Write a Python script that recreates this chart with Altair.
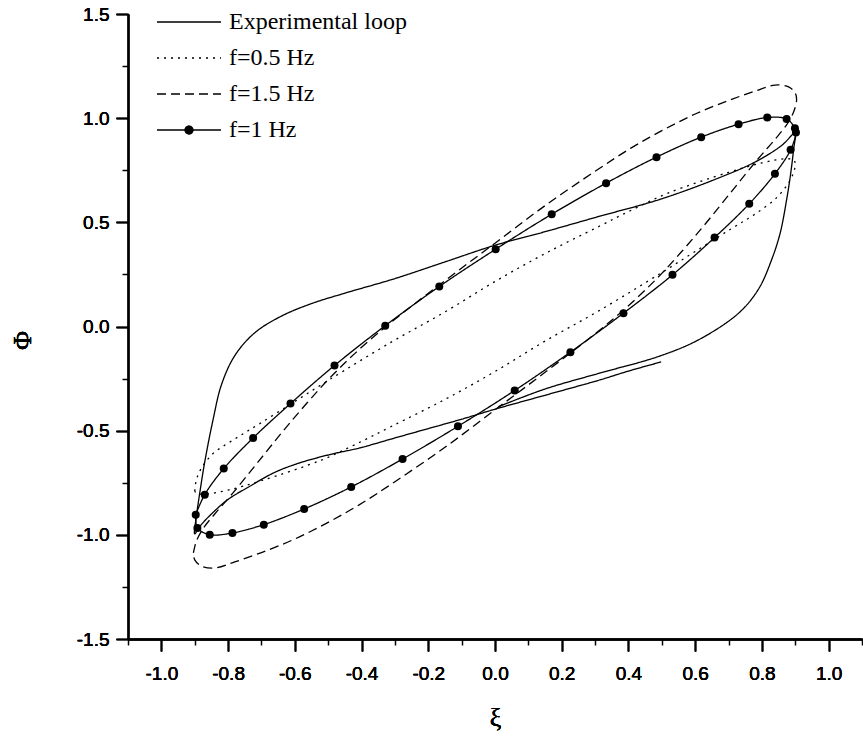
import altair as alt
import pandas as pd

series_names = ["Experimental loop", "f=0.5 Hz", "f=1.5 Hz", "f=1 Hz"]

# Experimental loop (traced from its free end)
exp_x = [0.498, 0.40, 0.311, 0.15, 0.0, -0.10, -0.20, -0.30, -0.406, -0.496, -0.586, -0.66, -0.735, -0.80, -0.85, -0.885, -0.90,
         -0.895, -0.885, -0.87, -0.845, -0.82, -0.78, -0.72, -0.64, -0.55, -0.45, -0.30, -0.15, 0.0, 0.15, 0.311, 0.49, 0.65, 0.78, 0.86, 0.899,
         0.895, 0.885, 0.874, 0.855, 0.829, 0.79, 0.73, 0.61, 0.49, 0.311, 0.15, 0.01]
exp_y = [-0.170, -0.214, -0.258, -0.33, -0.397, -0.445, -0.49, -0.535, -0.583, -0.615, -0.655, -0.70, -0.767, -0.83, -0.90, -0.96, -0.995,
         -0.911, -0.80, -0.65, -0.447, -0.28, -0.14, -0.03, 0.05, 0.11, 0.16, 0.23, 0.31, 0.39, 0.455, 0.528, 0.608, 0.70, 0.79, 0.87, 0.928,
         0.85, 0.72, 0.608, 0.45, 0.32, 0.18, 0.064, -0.064, -0.144, -0.225, -0.30, -0.385]

# f = 0.5 Hz
f05_x = [-0.90, -0.895, -0.88, -0.845, -0.78, -0.709, -0.60, -0.496, -0.311, -0.15, 0.0, 0.15, 0.311, 0.421, 0.52, 0.70, 0.80, 0.869, 0.895, 0.90,
         0.895, 0.88, 0.845, 0.78, 0.709, 0.60, 0.496, 0.311, 0.15, 0.0, -0.15, -0.311, -0.421, -0.52, -0.70, -0.80, -0.869, -0.895, -0.90]
f05_y = [-0.79, -0.735, -0.68, -0.61, -0.54, -0.47, -0.36, -0.255, -0.075, 0.07, 0.216, 0.35, 0.48, 0.568, 0.641, 0.74, 0.785, 0.805, 0.80, 0.78,
         0.74, 0.69, 0.62, 0.54, 0.47, 0.36, 0.255, 0.075, -0.07, -0.216, -0.35, -0.48, -0.568, -0.641, -0.74, -0.785, -0.805, -0.80, -0.79]

# f = 1.5 Hz
f15_x = [-0.904, -0.895, -0.875, -0.84, -0.786, -0.71, -0.616, -0.50, -0.40, -0.30, -0.15, 0.0, 0.15, 0.30, 0.406, 0.50, 0.60, 0.70, 0.78, 0.839, 0.88, 0.90, 0.904,
         0.895, 0.875, 0.84, 0.786, 0.71, 0.616, 0.50, 0.40, 0.30, 0.15, 0.0, -0.15, -0.30, -0.406, -0.50, -0.60, -0.70, -0.78, -0.839, -0.88, -0.90, -0.904]
f15_y = [-1.087, -1.03, -0.97, -0.90, -0.80, -0.65, -0.465, -0.255, -0.10, 0.035, 0.22, 0.40, 0.58, 0.745, 0.855, 0.94, 1.02, 1.085, 1.13, 1.159, 1.15, 1.12, 1.087,
         1.03, 0.97, 0.90, 0.80, 0.65, 0.465, 0.255, 0.10, -0.035, -0.22, -0.40, -0.58, -0.745, -0.855, -0.94, -1.02, -1.085, -1.13, -1.159, -1.15, -1.12, -1.087]

# f = 1 Hz (marked points)
f1_x = [-0.897, -0.870, -0.813, -0.725, -0.613, -0.481, -0.329, -0.167, 0.002, 0.170, 0.333, 0.484, 0.618, 0.730, 0.816, 0.874, 0.899, 0.902,
        0.886, 0.839, 0.762, 0.658, 0.532, 0.385, 0.226, 0.059, -0.111, -0.277, -0.431, -0.572, -0.693, -0.787, -0.855, -0.892]
f1_y = [-0.903, -0.807, -0.682, -0.535, -0.37, -0.187, 0.004, 0.192, 0.371, 0.539, 0.688, 0.813, 0.909, 0.971, 1.003, 0.996, 0.952, 0.931,
        0.848, 0.733, 0.589, 0.427, 0.248, 0.064, -0.123, -0.307, -0.479, -0.636, -0.770, -0.876, -0.951, -0.991, -0.999, -0.967]

x_major = [-1.0, -0.8, -0.6, -0.4, -0.2, 0.0, 0.2, 0.4, 0.6, 0.8, 1.0]
x_minor = [-1.1, -0.9, -0.7, -0.5, -0.3, -0.1, 0.1, 0.3, 0.5, 0.7, 0.9, 1.1]
y_major = [-1.5, -1.0, -0.5, 0.0, 0.5, 1.0, 1.5]
y_minor = [-1.25, -0.75, -0.25, 0.25, 0.75, 1.25]


def curve_frame(xs, ys):
    return pd.DataFrame({"order": list(range(len(xs))), "xi": xs, "phi": ys})


exp_df = curve_frame(exp_x, exp_y)
f05_df = curve_frame(f05_x, f05_y)
f15_df = curve_frame(f15_x, f15_y)
f1_line_df = curve_frame(f1_x + f1_x[:1], f1_y + f1_y[:1])
dots_df = pd.DataFrame({"xi": f1_x, "phi": f1_y})
legend_df = pd.DataFrame({"series": series_names})

minus_fix = "replace(format(datum.value, '.1f'), '\u2212', '-')"
xscale = alt.Scale(domain=[-1.1, 1.1], nice=False, zero=False)
yscale = alt.Scale(domain=[-1.5, 1.5], nice=False, zero=False)

x_axis_major = alt.Axis(values=x_major, orient="bottom", tickSize=12, tickWidth=1.5, tickColor="black",
                        domainWidth=1.8, domainColor="black", grid=False, labelExpr=minus_fix,
                        labelFont="Liberation Sans", labelFontSize=19, labelFontWeight="normal",
                        labelColor="black", labelPadding=13,
                        labelFlush=False, labelOverlap=False,
                        title="ξ", titleFont="Liberation Serif", titleFontSize=26, titleFontWeight="normal",
                        titleColor="black", titleY=86, titleBaseline="alphabetic")
y_axis_major = alt.Axis(values=y_major, orient="left", tickSize=12, tickWidth=1.5, tickColor="black",
                        domainWidth=1.8, domainColor="black", grid=False, labelExpr=minus_fix,
                        labelFont="Liberation Sans", labelFontSize=19, labelFontWeight="normal",
                        labelColor="black", labelPadding=7,
                        labelFlush=False, labelOverlap=False,
                        title="Φ", titleFont="Liberation Serif", titleFontSize=26, titleFontWeight="normal",
                        titleColor="black", titleX=-106, titleY=326, titleAngle=270,
                        titleAlign="center", titleBaseline="middle")
x_axis_minor = alt.Axis(values=x_minor, orient="bottom", tickSize=6, tickWidth=1.5, tickColor="black",
                        domain=False, labels=False, grid=False, title=None)
y_axis_minor = alt.Axis(values=y_minor, orient="left", tickSize=6, tickWidth=1.5, tickColor="black",
                        domain=False, labels=False, grid=False, title=None)

X = alt.X("xi:Q", scale=xscale, axis=x_axis_major)
Y = alt.Y("phi:Q", scale=yscale, axis=y_axis_major)
Xm = alt.X("xi:Q", scale=xscale, axis=x_axis_minor)
Ym = alt.Y("phi:Q", scale=yscale, axis=y_axis_minor)


def curve(df, dash):
    return alt.Chart(df).mark_line(color="black", strokeWidth=1.3, interpolate="catmull-rom",
                                   strokeDash=dash).encode(x=X, y=Y, order="order:Q")


exp_line = curve(exp_df, [1, 0])
f05_line = curve(f05_df, [2, 5])
f15_line = curve(f15_df, [9, 5])
f1_line = curve(f1_line_df, [1, 0])

dots = alt.Chart(dots_df).mark_point(filled=True, shape="circle", size=64, color="black", opacity=1).encode(
    x=Xm, y=Ym,
)

# legend (symbols drawn by the legend itself)
line_path = "M-3.2,0L3.2,0"
dot_path = "M-3.2,0L3.2,0M0.4,0A0.4,0.4,0,1,1,-0.4,0A0.4,0.4,0,1,1,0.4,0Z"
legend = alt.Legend(title=None, orient="none", legendX=28, legendY=-4, padding=0,
                    labelFont="Liberation Serif", labelFontSize=24, labelColor="black", labelLimit=0,
                    symbolSize=400, symbolStrokeWidth=1.3, symbolOpacity=1,
                    symbolOffset=21, labelOffset=28, rowPadding=12)
legend_layer = alt.Chart(legend_df).mark_point(filled=True, color="black", stroke="black", strokeWidth=1.3,
                                               opacity=0).encode(
    shape=alt.Shape("series:N", scale=alt.Scale(domain=series_names,
                                                range=[line_path, line_path, line_path, dot_path]),
                    legend=legend),
    strokeDash=alt.StrokeDash("series:N", scale=alt.Scale(domain=series_names,
                                                          range=[[1, 0], [2, 5], [9, 5], [1, 0]]),
                              legend=legend),
)

chart = alt.layer(exp_line, f05_line, f15_line, f1_line, dots, legend_layer).resolve_axis(
    x="independent", y="independent").properties(
    width=734, height=625,
    autosize=alt.AutoSizeParams(type="none"),
    padding={"left": 128, "top": 14, "right": 1, "bottom": 99},
    background="white",
).configure_view(stroke=None)

chart.save("out.html", embed_options={"renderer": "svg", "actions": False})
